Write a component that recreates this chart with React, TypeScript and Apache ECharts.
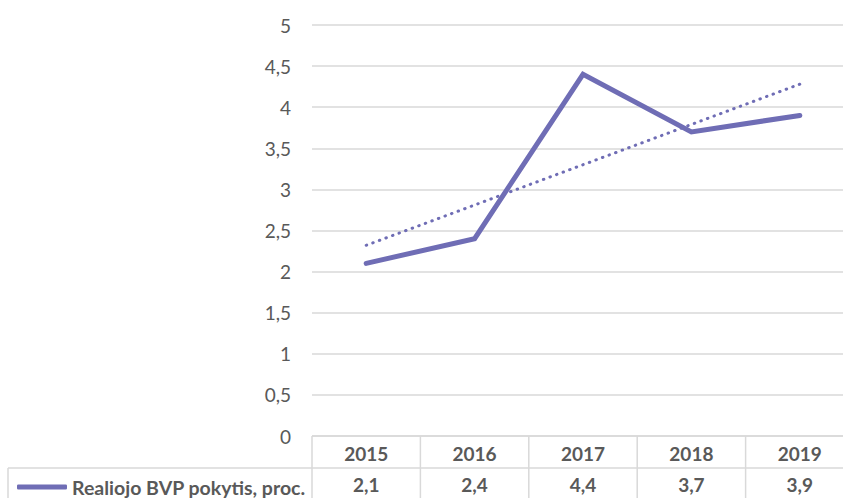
import React, { useEffect, useRef } from "react";
import * as echarts from "echarts";

const years = ["2015", "2016", "2017", "2018", "2019"];
const values = [2.1, 2.4, 4.4, 3.7, 3.9];
const seriesName = "Realiojo BVP pokytis, proc.";
// Linear trend line end points
const trendStart = 2.32;
const trendEnd = 4.28;
const yTicks = { min: 0, max: 5, interval: 0.5 };

const LINE_COLOR = "#6F6DB5";
const TEXT = "#595959";
const BORDER = "#D9D9D9";
const FONT = "Lato, 'Open Sans', sans-serif";
const FS = 19;

const fmt = (v: number) => String(v).replace(".", ",");

export default function App() {
  const ref = useRef<HTMLDivElement>(null);
  useEffect(() => {
    if (!ref.current) return;
    const chart = echarts.init(ref.current, undefined, { renderer: "svg" });
    const gridLeft = 312;
    const gridTop = 25;
    const gridBottomY = 436;
    const W = 856;
    const H = 498;
    chart.setOption({
      animation: false,
      textStyle: { fontFamily: FONT },
      grid: {
        left: gridLeft,
        right: 2,
        top: gridTop,
        bottom: H - gridBottomY,
        containLabel: false,
        outerBoundsMode: "none",
      },
      legend: {
        data: [seriesName],
        left: 12,
        top: 472,
        icon: "roundRect",
        itemWidth: 50,
        itemHeight: 5,
        textStyle: { color: TEXT, fontSize: FS + 0.5, fontWeight: "bold", fontFamily: FONT },
      },
      xAxis: {
        type: "category",
        data: years,
        boundaryGap: true,
        axisLine: { show: false },
        axisTick: { show: false },
        axisLabel: {
          margin: 2,
          formatter: (val: string, idx: number) => `{y|${val}}\n{v|${fmt(values[idx])}}`,
          rich: {
            y: { color: TEXT, fontSize: FS, fontWeight: "bold", fontFamily: FONT, height: 31, lineHeight: 31 },
            v: { color: TEXT, fontSize: FS, fontWeight: "bold", fontFamily: FONT, height: 31, lineHeight: 31 },
          },
        },
      },
      yAxis: {
        type: "value",
        min: yTicks.min,
        max: yTicks.max,
        interval: yTicks.interval,
        axisLine: { show: false },
        axisTick: { show: false },
        splitLine: { lineStyle: { color: BORDER, width: 1.5 } },
        axisLabel: {
          margin: 21,
          color: TEXT,
          fontSize: FS,
          fontFamily: FONT,
          formatter: (v: number) => fmt(v),
        },
      },
      series: [
        {
          name: seriesName,
          type: "line",
          data: values,
          showSymbol: false,
          symbol: "none",
          color: LINE_COLOR,
          lineStyle: { color: LINE_COLOR, width: 5, cap: "round", join: "miter" },
          markLine: {
            silent: true,
            symbol: "none",
            label: { show: false },
            lineStyle: { color: LINE_COLOR, width: 3, type: [0.5, 6.5], cap: "round" },
            data: [[{ coord: [years[0], trendStart] }, { coord: [years[years.length - 1], trendEnd] }]],
          },
        },
      ],
    });

    // table borders using the axis scale
    const p0 = chart.convertToPixel({ gridIndex: 0 }, [0, 0]) as number[];
    const p1 = chart.convertToPixel({ gridIndex: 0 }, [1, 0]) as number[];
    const band = p1[0] - p0[0];
    const firstEdge = p0[0] - band / 2;
    const tableTop = p0[1];
    const rowSep = 468;
    const bottom = 498;
    const lines: any[] = [];
    const ls = { stroke: BORDER, lineWidth: 1.5 };
    lines.push({ type: "line", shape: { x1: firstEdge, y1: tableTop, x2: W, y2: tableTop }, style: ls });
    lines.push({ type: "line", shape: { x1: 8, y1: rowSep, x2: W, y2: rowSep }, style: ls });
    lines.push({ type: "line", shape: { x1: 8, y1: rowSep, x2: 8, y2: bottom }, style: ls });
    for (let i = 0; i <= years.length; i++) {
      const x = firstEdge + i * band;
      lines.push({ type: "line", shape: { x1: x, y1: tableTop, x2: x, y2: bottom }, style: ls });
    }
    chart.setOption({ graphic: lines });
    return () => chart.dispose();
  }, []);
  return (
    <div style={{ position: "fixed", left: 0, top: 0, width: 843, height: 498, overflow: "hidden", background: "#fff" }}>
      <div ref={ref} style={{ width: 856, height: 498 }} />
    </div>
  );
}
